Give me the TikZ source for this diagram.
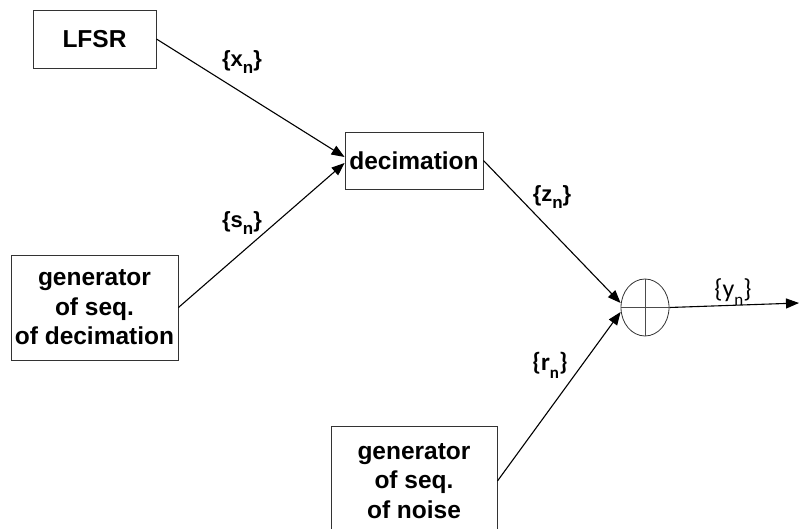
\documentclass[tikz,border=0pt]{standalone}
\usepackage{fontspec}
\setmainfont{Liberation Sans}
\newfontfamily\calib{Carlito}
\usetikzlibrary{arrows.meta,shapes.geometric}
% lowered index letter after a sequence symbol
\newcommand{\idx}[1]{\raisebox{-0.32em}{\fontsize{17}{17}\selectfont #1}}
\tikzset{
  block/.style={draw=black!80, line width=0.9pt, fill=white, align=center, inner sep=0pt,
    font=\fontsize{24.5}{29.5}\selectfont\bfseries},
  link/.style={line width=1.1pt, -{Triangle[length=13pt,width=10pt]}},
  seqlabel/.style={font=\fontsize{22}{24}\selectfont\bfseries, inner sep=0pt},
  seqlabelc/.style={font=\fontsize{25}{26}\selectfont\calib\bfseries, inner sep=0pt},
  xorring/.style={ellipse, draw=black!80, line width=0.8pt, minimum width=48pt, minimum height=57pt, inner sep=0pt}
}
\begin{document}
\begin{tikzpicture}[x=1pt,y=-1pt]
  \useasboundingbox (0,0) rectangle (800,529);
  \node[block, minimum width=123pt, minimum height=58pt] (lfsr) at (94.5,39) {LFSR};
  \node[block, minimum width=138pt, minimum height=57pt] (dec) at (414,160.5) {decimation};
  \node[block, minimum width=167pt, minimum height=105pt] (gdec) at (94.5,307.5) {generator\\of seq.\\of decimation};
  \node[block, minimum width=166pt, minimum height=110pt] (gnoise) at (414,481) {generator\\of seq.\\of noise};
  \node[xorring] (xor) at (645,307.5) {};
  \draw[black!70, line width=0.6pt] (xor.north) -- (xor.south) (xor.west) -- (xor.east);
  \coordinate (out) at (799,303);

  \draw[link] (lfsr.east) -- ([yshift=3.5pt]dec.west);
  \draw[link] (gdec.east) -- ([yshift=-2.5pt]dec.west);
  \draw[link] (dec.east) -- ([yshift=4.5pt]xor.west);
  \draw[link] (gnoise.east) -- ([yshift=-4.5pt]xor.west);
  \draw[link] (xor.east) -- (out);

  \node[seqlabel] (lx) at (242,62) {\{x\idx{n}\}};
  \node[seqlabel] (ls) at (242,223) {\{s\idx{n}\}};
  \node[seqlabel] (lz) at (552,197) {\{z\idx{n}\}};
  \node[seqlabelc] (lr) at (550,365) {\{r\idx{n}\}};
  \node[seqlabelc, font=\fontsize{26}{26}\selectfont\calib] (ly) at (733,292) {\{y\idx{n}\}};
\end{tikzpicture}
\end{document}
